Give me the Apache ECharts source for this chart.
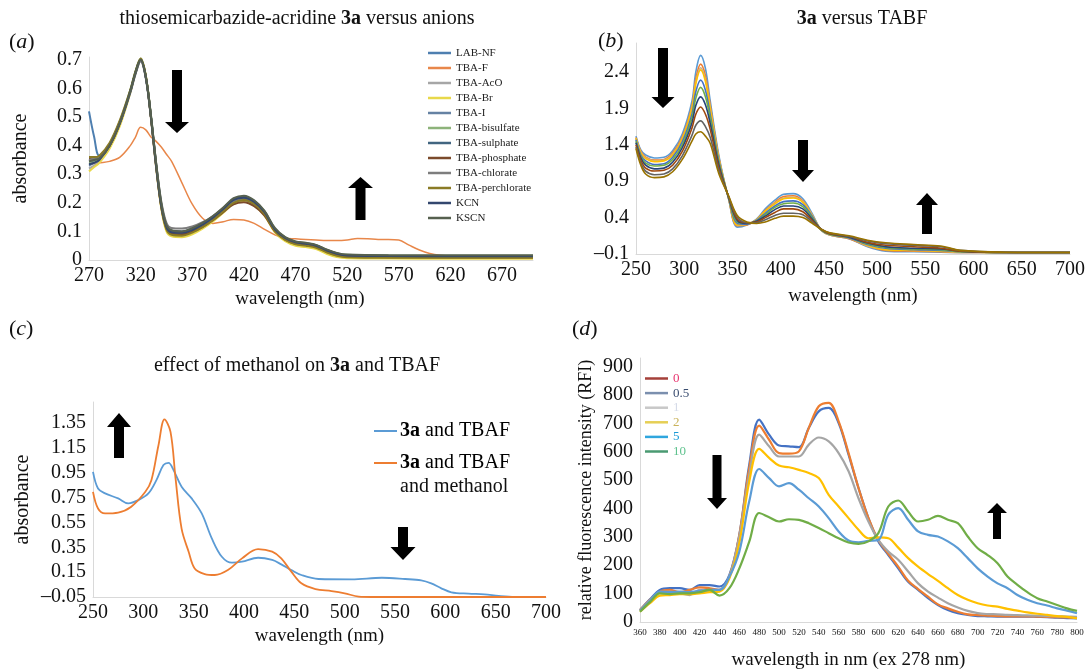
<!DOCTYPE html>
<html>
<head>
<meta charset="utf-8">
<title>3a absorbance and fluorescence</title>
<style>
    html, body { margin: 0; padding: 0; background: #fff; }
    #main { width: 1091px; height: 670px; }
</style>
</head>
<body>
<div id="main"></div>
<script src="https://cdn.jsdelivr.net/npm/echarts@6/dist/echarts.min.js"></script>
<script>
var FONT = '"Liberation Serif", "DejaVu Serif", serif';
var INK = '#111';

// (a) thiosemicarbazide-acridine 3a versus anions
var waveA = [270, 275, 280, 290, 300, 310, 315, 320, 325, 330, 335, 340, 345, 350, 360, 370, 380, 390, 400, 410, 420, 430, 440, 450, 460, 470, 480, 490, 500, 510, 520, 560, 620, 700];
var labNF = [0.52, 0.43, 0.365, 0.40, 0.48, 0.59, 0.655, 0.70, 0.64, 0.50, 0.33, 0.19, 0.115, 0.097, 0.095, 0.105, 0.123, 0.146, 0.176, 0.207, 0.215, 0.2, 0.165, 0.106, 0.076, 0.061, 0.056, 0.049, 0.033, 0.021, 0.016, 0.014, 0.013, 0.013];
var tbaAcO = [0.32, 0.33, 0.345, 0.395, 0.475, 0.585, 0.65, 0.695, 0.635, 0.50, 0.335, 0.195, 0.12, 0.102, 0.10, 0.108, 0.125, 0.147, 0.174, 0.2, 0.206, 0.192, 0.158, 0.103, 0.074, 0.059, 0.054, 0.047, 0.031, 0.019, 0.014, 0.012, 0.011, 0.011];
var tbaBr = [0.31, 0.325, 0.34, 0.39, 0.47, 0.585, 0.655, 0.70, 0.645, 0.50, 0.325, 0.18, 0.1, 0.083, 0.08, 0.09, 0.11, 0.135, 0.165, 0.196, 0.205, 0.19, 0.155, 0.097, 0.066, 0.05, 0.045, 0.038, 0.022, 0.01, 0.006, 0.005, 0.004, 0.004];
var tbaI = [0.33, 0.34, 0.35, 0.40, 0.48, 0.59, 0.655, 0.70, 0.64, 0.50, 0.33, 0.19, 0.113, 0.094, 0.09, 0.1, 0.119, 0.143, 0.172, 0.203, 0.21, 0.195, 0.16, 0.103, 0.073, 0.058, 0.053, 0.046, 0.03, 0.018, 0.013, 0.012, 0.011, 0.011];
var tbaBisulfate = [0.34, 0.345, 0.355, 0.405, 0.485, 0.595, 0.66, 0.705, 0.645, 0.505, 0.335, 0.195, 0.118, 0.1, 0.097, 0.108, 0.127, 0.151, 0.182, 0.213, 0.222, 0.206, 0.17, 0.11, 0.079, 0.064, 0.059, 0.052, 0.036, 0.024, 0.018, 0.016, 0.015, 0.015];
var tbaSulphate = [0.345, 0.35, 0.36, 0.405, 0.485, 0.59, 0.655, 0.70, 0.64, 0.50, 0.335, 0.195, 0.12, 0.102, 0.1, 0.11, 0.128, 0.151, 0.181, 0.212, 0.22, 0.205, 0.169, 0.109, 0.078, 0.063, 0.058, 0.051, 0.035, 0.023, 0.017, 0.015, 0.014, 0.014];
var tbaPhosphate = [0.355, 0.355, 0.36, 0.40, 0.48, 0.59, 0.655, 0.70, 0.64, 0.495, 0.325, 0.185, 0.11, 0.092, 0.09, 0.099, 0.116, 0.139, 0.167, 0.195, 0.202, 0.188, 0.155, 0.1, 0.071, 0.057, 0.052, 0.045, 0.029, 0.017, 0.012, 0.01, 0.009, 0.009];
var tbaChlorate = [0.35, 0.355, 0.36, 0.405, 0.48, 0.585, 0.65, 0.695, 0.64, 0.505, 0.34, 0.205, 0.13, 0.112, 0.11, 0.117, 0.132, 0.153, 0.18, 0.208, 0.215, 0.2, 0.165, 0.108, 0.078, 0.063, 0.058, 0.051, 0.035, 0.023, 0.017, 0.015, 0.014, 0.014];
var tbaPerchlorate = [0.36, 0.36, 0.365, 0.41, 0.49, 0.595, 0.66, 0.705, 0.645, 0.5, 0.33, 0.185, 0.107, 0.088, 0.085, 0.096, 0.115, 0.14, 0.17, 0.2, 0.21, 0.196, 0.16, 0.101, 0.07, 0.055, 0.05, 0.043, 0.027, 0.015, 0.01, 0.008, 0.008, 0.008];
var kcn = [0.335, 0.34, 0.35, 0.40, 0.48, 0.59, 0.655, 0.70, 0.64, 0.5, 0.33, 0.19, 0.115, 0.097, 0.095, 0.105, 0.124, 0.148, 0.178, 0.21, 0.218, 0.203, 0.167, 0.107, 0.077, 0.062, 0.057, 0.05, 0.034, 0.022, 0.016, 0.014, 0.013, 0.013];
var kscn = [0.345, 0.35, 0.355, 0.40, 0.48, 0.59, 0.655, 0.70, 0.64, 0.505, 0.34, 0.2, 0.122, 0.104, 0.1, 0.111, 0.13, 0.154, 0.184, 0.216, 0.225, 0.209, 0.172, 0.112, 0.08, 0.065, 0.06, 0.053, 0.037, 0.025, 0.019, 0.017, 0.017, 0.017];
var waveF = [270, 280, 290, 300, 310, 315, 320, 325, 330, 335, 340, 345, 350, 360, 370, 380, 390, 400, 410, 420, 430, 440, 450, 460, 470, 480, 490, 500, 510, 520, 530, 540, 550, 560, 570, 580, 590, 600, 610, 620, 700];
var tbaF = [0.335, 0.34, 0.345, 0.36, 0.40, 0.43, 0.464, 0.455, 0.43, 0.415, 0.395, 0.37, 0.345, 0.27, 0.195, 0.146, 0.128, 0.134, 0.142, 0.14, 0.128, 0.107, 0.088, 0.076, 0.074, 0.072, 0.07, 0.068, 0.068, 0.07, 0.075, 0.074, 0.072, 0.072, 0.07, 0.052, 0.035, 0.023, 0.017, 0.015, 0.015];

// (b) 3a versus TABF, ten additions
var waveB = [250, 255, 260, 269, 279, 288, 298, 308, 312, 317, 322, 327, 336, 346, 355, 365, 375, 384, 394, 403, 413, 423, 432, 442, 451, 471, 490, 509, 538, 566, 586, 633, 700];
var tabf1 = [1.52, 1.33, 1.26, 1.22, 1.23, 1.32, 1.55, 2.00, 2.40, 2.63, 2.45, 2.00, 1.25, 0.66, 0.27, 0.30, 0.38, 0.52, 0.64, 0.72, 0.73, 0.66, 0.47, 0.23, 0.16, 0.11, 0.00, -0.06, -0.07, -0.075, -0.08, -0.08, -0.08];
var tabf2 = [1.50, 1.31, 1.23, 1.19, 1.20, 1.29, 1.51, 1.94, 2.31, 2.51, 2.35, 1.94, 1.22, 0.66, 0.29, 0.30, 0.37, 0.50, 0.61, 0.69, 0.70, 0.63, 0.45, 0.23, 0.16, 0.11, 0.01, -0.05, -0.06, -0.07, -0.08, -0.08, -0.08];
var tabf3 = [1.49, 1.30, 1.22, 1.18, 1.19, 1.27, 1.49, 1.91, 2.26, 2.46, 2.30, 1.91, 1.21, 0.67, 0.30, 0.31, 0.37, 0.49, 0.60, 0.67, 0.68, 0.62, 0.45, 0.23, 0.16, 0.12, 0.01, -0.04, -0.05, -0.06, -0.08, -0.08, -0.08];
var tabf4 = [1.49, 1.29, 1.21, 1.17, 1.18, 1.26, 1.48, 1.90, 2.24, 2.43, 2.27, 1.89, 1.20, 0.67, 0.30, 0.31, 0.37, 0.49, 0.59, 0.66, 0.67, 0.61, 0.44, 0.23, 0.17, 0.12, 0.02, -0.04, -0.05, -0.06, -0.07, -0.08, -0.08];
var tabf5 = [1.47, 1.26, 1.18, 1.13, 1.14, 1.23, 1.44, 1.82, 2.13, 2.29, 2.15, 1.81, 1.17, 0.67, 0.32, 0.31, 0.36, 0.46, 0.56, 0.62, 0.63, 0.58, 0.43, 0.23, 0.17, 0.12, 0.03, -0.02, -0.04, -0.05, -0.07, -0.08, -0.08];
var tabf6 = [1.45, 1.24, 1.15, 1.11, 1.12, 1.20, 1.40, 1.77, 2.04, 2.19, 2.06, 1.76, 1.15, 0.68, 0.34, 0.32, 0.35, 0.44, 0.54, 0.59, 0.60, 0.55, 0.41, 0.23, 0.17, 0.13, 0.04, -0.01, -0.03, -0.04, -0.07, -0.08, -0.08];
var tabf7 = [1.43, 1.22, 1.12, 1.07, 1.08, 1.16, 1.36, 1.70, 1.94, 2.06, 1.95, 1.69, 1.12, 0.68, 0.36, 0.32, 0.35, 0.42, 0.51, 0.56, 0.56, 0.52, 0.39, 0.24, 0.18, 0.13, 0.05, 0.00, -0.02, -0.03, -0.06, -0.08, -0.08];
var tabf8 = [1.40, 1.19, 1.08, 1.04, 1.05, 1.12, 1.31, 1.63, 1.82, 1.92, 1.82, 1.61, 1.08, 0.69, 0.38, 0.33, 0.34, 0.40, 0.47, 0.52, 0.52, 0.48, 0.37, 0.24, 0.18, 0.14, 0.06, 0.02, 0.00, -0.02, -0.06, -0.08, -0.08];
var tabf9 = [1.37, 1.15, 1.04, 0.99, 1.00, 1.07, 1.25, 1.53, 1.67, 1.73, 1.65, 1.50, 1.04, 0.69, 0.41, 0.33, 0.33, 0.37, 0.43, 0.46, 0.46, 0.44, 0.35, 0.24, 0.19, 0.14, 0.08, 0.04, 0.02, 0.00, -0.05, -0.075, -0.08];
var tabf10 = [1.35, 1.12, 1.00, 0.95, 0.96, 1.03, 1.20, 1.45, 1.55, 1.58, 1.52, 1.42, 1.00, 0.70, 0.43, 0.34, 0.32, 0.34, 0.39, 0.42, 0.42, 0.40, 0.33, 0.24, 0.19, 0.15, 0.09, 0.055, 0.03, 0.01, -0.05, -0.075, -0.08];

// (c) effect of methanol
var waveC1 = [250, 255, 262, 275, 285, 295, 305, 313, 320, 325, 330, 338, 348, 358, 368, 378, 388, 398, 414, 428, 437, 447, 457, 474, 507, 537, 560, 576, 586, 596, 606, 623, 639, 653, 669, 700];
var tbaf = [0.958, 0.824, 0.784, 0.744, 0.704, 0.73, 0.784, 0.891, 1.012, 1.03, 0.972, 0.838, 0.744, 0.623, 0.422, 0.274, 0.226, 0.234, 0.266, 0.248, 0.213, 0.167, 0.127, 0.095, 0.092, 0.105, 0.095, 0.084, 0.06, 0.02, -0.012, -0.023, -0.029, -0.042, -0.05, -0.05];
var waveC2 = [250, 255, 262, 275, 288, 302, 308, 315, 321, 327, 332, 338, 345, 351, 361, 371, 384, 398, 414, 428, 437, 447, 457, 471, 487, 500, 514, 527, 700];
var tbafMethanol = [0.797, 0.663, 0.623, 0.63, 0.677, 0.797, 0.89, 1.17, 1.38, 1.28, 0.905, 0.50, 0.315, 0.18, 0.135, 0.127, 0.167, 0.261, 0.336, 0.315, 0.261, 0.154, 0.06, 0.014, -0.002, -0.02, -0.047, -0.05, -0.05];

// (d) fluorescence, ex 278 nm
var waveD = [360, 370, 380, 390, 400, 410, 420, 430, 440, 450, 460, 470, 480, 490, 500, 510, 520, 530, 540, 550, 560, 570, 580, 590, 600, 610, 620, 630, 640, 650, 660, 670, 680, 690, 700, 710, 720, 730, 740, 750, 760, 770, 780, 790, 800];
var rfi0 = [42, 80, 113, 119, 119, 113, 130, 130, 125, 166, 307, 554, 713, 660, 622, 619, 616, 684, 742, 754, 701, 589, 472, 366, 284, 236, 189, 142, 113, 84, 60, 42, 31, 25, 21, 20, 19, 19, 19, 19, 18, 17, 15, 14, 13];
var rfi05 = [42, 78, 107, 113, 105, 113, 122, 119, 113, 160, 307, 542, 692, 642, 595, 593, 601, 684, 760, 772, 707, 595, 472, 366, 289, 240, 195, 145, 116, 89, 62, 48, 36, 27, 24, 22, 21, 20, 20, 20, 19, 18, 17, 16, 15];
var rfi1 = [40, 76, 105, 107, 101, 95, 113, 109, 113, 160, 301, 519, 660, 619, 583, 583, 583, 625, 650, 636, 595, 531, 436, 354, 289, 248, 219, 178, 136, 107, 86, 66, 51, 39, 31, 28, 27, 25, 24, 23, 22, 21, 20, 19, 18];
var rfi2 = [36, 66, 93, 95, 98, 98, 101, 105, 107, 154, 278, 495, 610, 578, 551, 545, 536, 525, 507, 448, 407, 366, 325, 295, 298, 295, 262, 225, 195, 169, 145, 119, 95, 78, 66, 58, 54, 46, 40, 34, 29, 25, 21, 18, 13];
var rfi5 = [40, 75, 107, 105, 107, 105, 110, 113, 113, 160, 248, 425, 539, 507, 478, 489, 466, 436, 407, 366, 319, 287, 281, 286, 289, 378, 401, 360, 319, 307, 301, 284, 260, 225, 189, 160, 136, 119, 95, 78, 66, 58, 48, 40, 31];
var rfi10 = [36, 70, 101, 98, 101, 101, 105, 113, 93, 119, 189, 283, 384, 369, 354, 362, 360, 348, 331, 313, 295, 280, 275, 284, 313, 407, 428, 389, 354, 360, 374, 360, 348, 301, 260, 236, 207, 160, 131, 105, 84, 72, 60, 48, 39];

function pairs(xs, ys) {
    return xs.map(function (x, i) { return [x, ys[i]]; });
}
function curve(name, idx, xs, ys, color, width) {
    return {
        name: name, type: 'line', xAxisIndex: idx, yAxisIndex: idx,
        data: pairs(xs, ys), symbol: 'none', smooth: 0.35,
        lineStyle: {color: color, width: width}, itemStyle: {color: color},
        emphasis: {disabled: true}
    };
}
function txt(size) {
    return {fontFamily: FONT, fontSize: size, color: INK, fontWeight: 'normal'};
}
// only show labels on the real ticks (min + k*step)
function tickFmt(min, step, digits) {
    return function (v) {
        var k = (v - min) / step;
        if (Math.abs(k - Math.round(k)) > 1e-6) return '';
        if (Math.abs(v) < 1e-9) return '0';
        var s = Math.abs(v).toFixed(digits);
        return v < 0 ? '\u2013' + s : s;
    };
}
function xAx(idx, min, max, step, fmt, name, gap, lab, pad) {
    return {
        gridIndex: idx, type: 'value', min: min, max: max, interval: step,
        axisLine: {show: true, onZero: false, lineStyle: {color: '#d9d9d9', width: 1}},
        axisTick: {show: false}, splitLine: {show: false},
        axisLabel: Object.assign(txt(lab), {margin: 6, formatter: fmt}),
        name: name, nameLocation: 'middle', nameGap: gap, nameMoveOverlap: false,
        nameTextStyle: Object.assign(txt(19), {padding: pad || 0})
    };
}
function yAx(idx, min, max, step, fmt, name, gap, nameSize) {
    return {
        gridIndex: idx, type: 'value', min: min, max: max, interval: step,
        axisLine: {show: true, lineStyle: {color: '#d9d9d9', width: 1}},
        axisTick: {show: false}, splitLine: {show: false},
        axisLabel: Object.assign(txt(20), {margin: 7, formatter: fmt}),
        name: name, nameLocation: 'middle', nameGap: gap, nameMoveOverlap: false,
        nameTextStyle: txt(nameSize || 20)
    };
}
// block arrows drawn as annotations
function arrow(cx, shaftW, headW, y0, headY, tipY) {
    var a = cx - shaftW / 2, b = cx + shaftW / 2;
    return {
        type: 'polygon', silent: true,
        shape: {points: [[a, y0], [b, y0], [b, headY], [cx + headW / 2, headY], [cx, tipY], [cx - headW / 2, headY], [a, headY]]},
        style: {fill: '#000'}
    };
}
function letter(ch, left, top) {
    return {
        text: '{p|(}{i|' + ch + '}{p|)}', left: left, top: top, padding: 0,
        textStyle: {rich: {p: txt(22), i: Object.assign(txt(22), {fontStyle: 'italic'})}}
    };
}

var namesA = ['LAB-NF', 'TBA-F', 'TBA-AcO', 'TBA-Br', 'TBA-I', 'TBA-bisulfate', 'TBA-sulphate', 'TBA-phosphate', 'TBA-chlorate', 'TBA-perchlorate', 'KCN', 'KSCN'];
var rich3a = {
    n: txt(20),
    b: Object.assign(txt(20), {fontWeight: 'bold'})
};

var myChart = echarts.init(document.getElementById('main'));
var option = {
    animation: false,
    backgroundColor: '#fff',
    title: [
        {text: '{n|thiosemicarbazide-acridine }{b|3a}{n| versus anions}', left: 297, top: 9, textAlign: 'center', padding: 0, textStyle: {fontWeight: 'normal', rich: rich3a}},
        {text: '{b|3a}{n| versus TABF}', left: 862, top: 9, textAlign: 'center', padding: 0, textStyle: {fontWeight: 'normal', rich: rich3a}},
        {text: '{n|effect of methanol on }{b|3a}{n| and TBAF}', left: 297, top: 356, textAlign: 'center', padding: 0, textStyle: {fontWeight: 'normal', rich: rich3a}},
        letter('a', 9, 31),
        letter('b', 598, 30),
        letter('c', 9, 318),
        letter('d', 572, 318)
    ],
    legend: [
        {
            orient: 'vertical', left: 428, top: 47, padding: 0,
            icon: 'rect', itemWidth: 23, itemHeight: 2.5, itemGap: 3, selectedMode: false,
            data: namesA,
            textStyle: {fontFamily: FONT, fontSize: 11, color: '#222', lineHeight: 12}
        },
        {
            orient: 'vertical', left: 645, top: 372, padding: 0,
            icon: 'rect', itemWidth: 23, itemHeight: 2.5, itemGap: 1.6, selectedMode: false,
            textStyle: {fontFamily: FONT, fontSize: 13, lineHeight: 11},
            data: [
                {name: '0', itemStyle: {color: '#a5403a'}, textStyle: {color: '#e8336e'}},
                {name: '0.5', itemStyle: {color: '#7b8fae'}, textStyle: {color: '#3a4d70'}},
                {name: '1', itemStyle: {color: '#c8c8c8'}, textStyle: {color: '#d5dbe8'}},
                {name: '2', itemStyle: {color: '#e6cf55'}, textStyle: {color: '#c9b25a'}},
                {name: '5', itemStyle: {color: '#2fa6de'}, textStyle: {color: '#1b9ad6'}},
                {name: '10', itemStyle: {color: '#4a9a72'}, textStyle: {color: '#5fc28e'}}
            ]
        }
    ],
    grid: [
        {left: 89, top: 57, width: 444, height: 203, outerBoundsMode: 'none'},
        {left: 636, top: 43, width: 434, height: 211, outerBoundsMode: 'none'},
        {left: 93, top: 402, width: 453, height: 195, outerBoundsMode: 'none'},
        {left: 640, top: 358, width: 437, height: 264, outerBoundsMode: 'none'}
    ],
    xAxis: [
        xAx(0, 270, 700, 50, tickFmt(270, 50, 0), 'wavelength (nm)', 30, 20, [0, 22, 0, 0]),
        xAx(1, 250, 700, 50, tickFmt(250, 50, 0), 'wavelength (nm)', 33, 20),
        xAx(2, 250, 700, 50, tickFmt(250, 50, 0), 'wavelength (nm)', 30, 20),
        xAx(3, 360, 800, 20, tickFmt(360, 20, 0), 'wavelength in nm (ex 278 nm)', 29, 9, [0, 20, 0, 0])
    ],
    yAxis: [
        yAx(0, 0, 0.71, 0.1, tickFmt(0, 0.1, 1), 'absorbance', 58),
        yAx(1, -0.1, 2.8, 0.5, tickFmt(-0.1, 0.5, 1), '', 40),
        yAx(2, -0.05, 1.52, 0.2, tickFmt(-0.05, 0.2, 2), 'absorbance', 60),
        yAx(3, 0, 930, 100, tickFmt(0, 100, 0), 'relative fluorescence intensity (RFI)', 45, 18)
    ],
    graphic: [
        arrow(177, 10, 24, 70, 122, 133),
        arrow(360.5, 10, 25, 220, 188, 177),
        arrow(663, 10, 23, 48, 97, 108),
        arrow(803, 10, 22, 140, 170, 182),
        arrow(927, 10, 22, 234, 205, 193),
        arrow(119, 10, 24, 458, 427, 413),
        arrow(403, 10, 25, 527, 547, 560),
        arrow(717, 9, 20, 455, 498, 509),
        arrow(997, 8, 20, 539, 513, 503),
        // legend of panel (c)
        {type: 'line', silent: true, shape: {x1: 374, y1: 431, x2: 397, y2: 431}, style: {stroke: '#5b9bd5', lineWidth: 2}},
        {type: 'line', silent: true, shape: {x1: 374, y1: 463, x2: 397, y2: 463}, style: {stroke: '#ed7d31', lineWidth: 2}},
        {type: 'text', silent: true, x: 400, y: 431, style: {text: '{b|3a}{n| and TBAF}', verticalAlign: 'middle', rich: rich3a}},
        {type: 'text', silent: true, x: 400, y: 463, style: {text: '{b|3a}{n| and TBAF}', verticalAlign: 'middle', rich: rich3a}},
        {type: 'text', silent: true, x: 400, y: 487, style: {text: 'and methanol', verticalAlign: 'middle', fontFamily: FONT, fontSize: 20, fill: INK}}
    ],
    series: [
        curve('LAB-NF', 0, waveA, labNF, '#4e7fb0', 2),
        curve('TBA-F', 0, waveF, tbaF, '#e8874a', 1.5),
        curve('TBA-AcO', 0, waveA, tbaAcO, '#a6a6a6', 2),
        curve('TBA-Br', 0, waveA, tbaBr, '#e8d84a', 2),
        curve('TBA-I', 0, waveA, tbaI, '#6582a3', 2),
        curve('TBA-bisulfate', 0, waveA, tbaBisulfate, '#8db37a', 2),
        curve('TBA-sulphate', 0, waveA, tbaSulphate, '#416580', 2),
        curve('TBA-phosphate', 0, waveA, tbaPhosphate, '#7b4a2b', 2),
        curve('TBA-chlorate', 0, waveA, tbaChlorate, '#7d7d7d', 2),
        curve('TBA-perchlorate', 0, waveA, tbaPerchlorate, '#8a7b25', 2),
        curve('KCN', 0, waveA, kcn, '#33476e', 2),
        curve('KSCN', 0, waveA, kscn, '#56604f', 2),

        curve('TABF 1', 1, waveB, tabf1, '#5b9bd5', 1.6),
        curve('TABF 2', 1, waveB, tabf2, '#ed7d31', 1.6),
        curve('TABF 3', 1, waveB, tabf3, '#c9b08a', 1.6),
        curve('TABF 4', 1, waveB, tabf4, '#ffc000', 1.6),
        curve('TABF 5', 1, waveB, tabf5, '#4472c4', 1.6),
        curve('TABF 6', 1, waveB, tabf6, '#70ad47', 1.6),
        curve('TABF 7', 1, waveB, tabf7, '#264478', 1.6),
        curve('TABF 8', 1, waveB, tabf8, '#9e480e', 1.6),
        curve('TABF 9', 1, waveB, tabf9, '#636363', 1.6),
        curve('TABF 10', 1, waveB, tabf10, '#997300', 1.6),

        curve('3a and TBAF', 2, waveC1, tbaf, '#5b9bd5', 1.8),
        curve('3a and TBAF and methanol', 2, waveC2, tbafMethanol, '#ed7d31', 1.8),

        curve('0', 3, waveD, rfi0, '#4472c4', 2.2),
        curve('0.5', 3, waveD, rfi05, '#ed7d31', 2.2),
        curve('1', 3, waveD, rfi1, '#a5a5a5', 2.2),
        curve('2', 3, waveD, rfi2, '#ffc000', 2.2),
        curve('5', 3, waveD, rfi5, '#5b9bd5', 2.2),
        curve('10', 3, waveD, rfi10, '#70ad47', 2.2)
    ]
};
myChart.setOption(option);
</script>
</body>
</html>
